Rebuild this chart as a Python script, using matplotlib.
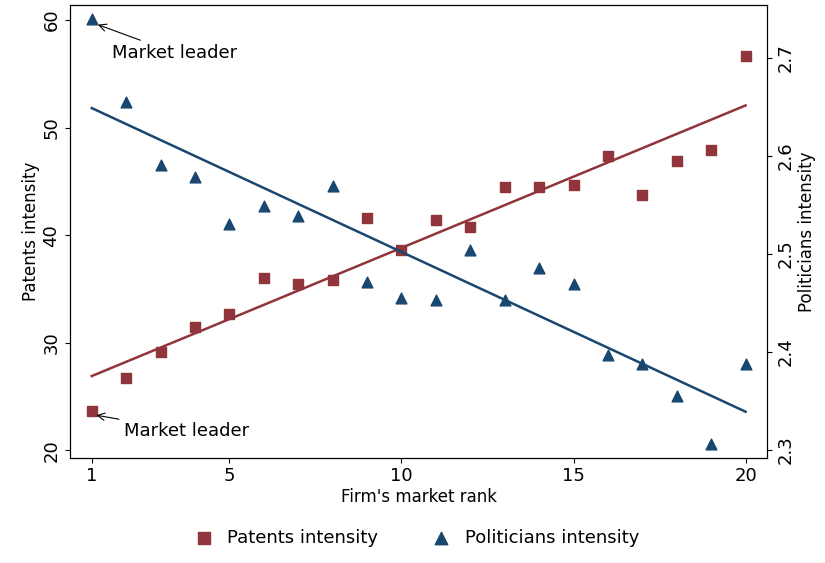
import numpy as np
import matplotlib.pyplot as plt

rank = np.arange(1, 21)
patents = np.array([23.6, 26.7, 29.1, 31.5, 32.7, 36.0, 35.5, 35.8, 41.6, 38.6,
                    41.4, 40.8, 44.5, 44.5, 44.7, 47.4, 43.7, 46.9, 47.9, 56.7])
politicians = np.array([2.740, 2.655, 2.591, 2.579, 2.531, 2.549, 2.539, 2.569, 2.471, 2.455,
                        2.453, 2.504, 2.453, 2.486, 2.469, 2.397, 2.388, 2.355, 2.306, 2.388])

red = '#90353b'
navy = '#1a476f'

fig = plt.figure(figsize=(8.25, 5.63), dpi=100)
ax = fig.add_axes([0.085, 0.187, 0.845, 0.804])
ax2 = ax.twinx()

p1 = np.polyfit(rank, patents, 1)
p2 = np.polyfit(rank, politicians, 1)
xs = np.array([1, 20])

ax.scatter(rank, patents, marker='s', s=50, color=red, zorder=3)
ax.plot(xs, np.polyval(p1, xs), color=red, lw=1.8)
ax2.scatter(rank, politicians, marker='^', s=60, color=navy, zorder=3)
ax2.plot(xs, np.polyval(p2, xs), color=navy, lw=1.8)

ax.set_xlim(0.37, 20.63)
ax.set_ylim(19.3, 61.4)
ax2.set_ylim(2.292, 2.754)
ax.set_xticks([1, 5, 10, 15, 20])
ax.set_yticks([20, 30, 40, 50, 60])
ax2.set_yticks([2.3, 2.4, 2.5, 2.6, 2.7])
for a in (ax, ax2):
    a.tick_params(labelsize=13)
for t in ax.get_yticklabels() + ax2.get_yticklabels():
    t.set_rotation(90)
    t.set_va('center')
ax.set_xlabel("Firm's market rank", fontsize=12, labelpad=2)
ax.set_ylabel('Patents intensity', fontsize=12, labelpad=2)
ax2.set_ylabel('Politicians intensity', fontsize=12, labelpad=2)

ax.annotate('Market leader', xy=(1.05, 23.3), xytext=(1.95, 21.3), fontsize=13,
            arrowprops=dict(arrowstyle='->', color='black', lw=0.8))
ax2.annotate('Market leader', xy=(1.1, 2.735), xytext=(1.6, 2.700), fontsize=13,
             arrowprops=dict(arrowstyle='->', color='black', lw=0.8))

h1 = ax.scatter([], [], marker='s', s=70, color=red)
h2 = ax.scatter([], [], marker='^', s=80, color=navy)
fig.legend([h1, h2], ['Patents intensity', 'Politicians intensity'], loc='lower center',
           ncol=2, frameon=False, fontsize=13, bbox_to_anchor=(0.5, 0.0), columnspacing=2.5,
           handletextpad=0.3)

fig.savefig('out.png')
